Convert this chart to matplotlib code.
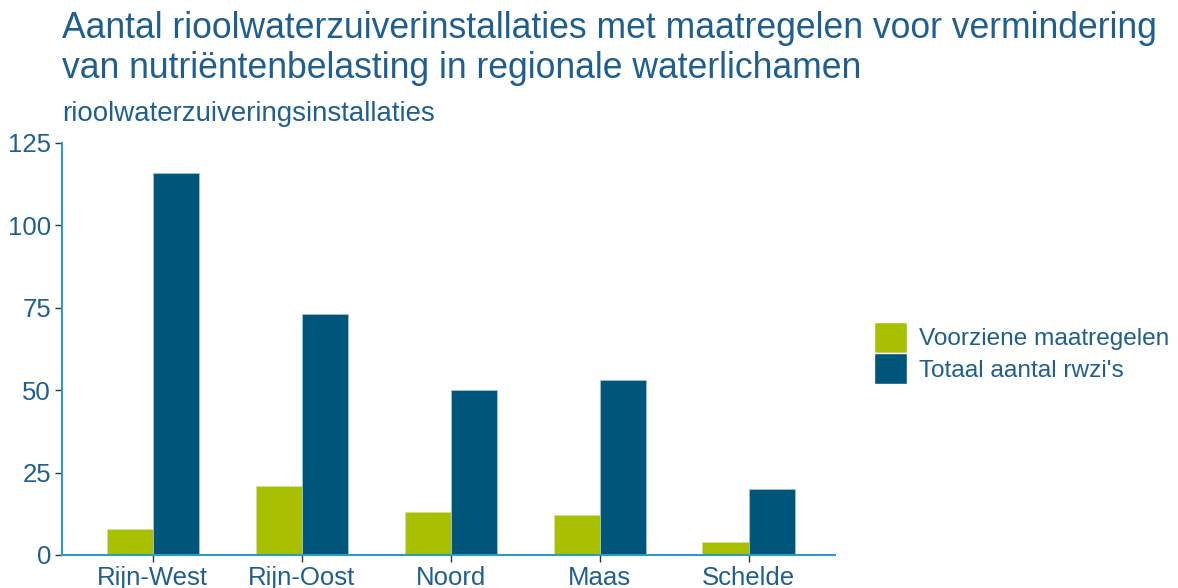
import matplotlib
matplotlib.use("Agg")
import matplotlib.pyplot as plt
import numpy as np
from matplotlib.patches import Patch

categories = ["Rijn-West", "Rijn-Oost", "Noord", "Maas", "Schelde"]
voorziene = [8, 21, 13, 12, 4]
totaal = [116, 73, 50, 53, 20]
series_names = ["Voorziene maatregelen", "Totaal aantal rwzi's"]
yticks = [0, 25, 50, 75, 100, 125]

plt.rcParams['font.family'] = ['Liberation Sans', 'DejaVu Sans']

green = "#a8c000"
blue = "#00567a"
txt = "#1f5f8f"
axcol = "#2b9cc0"

W, H = 1178, 588
fig = plt.figure(figsize=(W/100, H/100), dpi=100)
ax = fig.add_axes([62/W, (H-555)/H, (835-62)/W, (555-143)/H])

x = np.arange(len(categories))
bw = 0.31
ax.bar(x - bw/2, voorziene, width=bw, color=green, edgecolor="#cfe0a0", linewidth=0.6)
ax.bar(x + bw/2, totaal, width=bw, color=blue, edgecolor="#9fc3d3", linewidth=0.6)

ax.set_xlim(-0.61, 4.58)
ax.set_ylim(0, 125)
ax.set_xticks(x)
ax.set_xticklabels(categories)
ax.set_yticks(yticks)
ax.tick_params(axis='both', colors="#333333", labelcolor=txt, labelsize=18.5, length=5, width=1, pad=3)
for s in ["top", "right"]:
    ax.spines[s].set_visible(False)
for s in ["left", "bottom"]:
    ax.spines[s].set_color(axcol)
    ax.spines[s].set_linewidth(1.5)

fig.text(62/W, 1 - 28/H, "Aantal rioolwaterzuiverinstallaties met maatregelen voor vermindering",
         fontsize=25.6, color=txt, ha='left', va='center')
fig.text(62/W, 1 - 68/H, "van nutriëntenbelasting in regionale waterlichamen",
         fontsize=25.6, color=txt, ha='left', va='center')
fig.text(62/W, 1 - 114/H, "rioolwaterzuiveringsinstallaties", fontsize=19.9, color=txt, ha='left', va='center')

handles = [Patch(facecolor=green, edgecolor='white'), Patch(facecolor=blue, edgecolor='white')]
leg = fig.legend(handles, series_names, loc='center left', bbox_to_anchor=(874/W, 1 - 353/H),
                 frameon=False, fontsize=17.6, handlelength=1.35, handleheight=1.6,
                 handletextpad=0.5, labelspacing=0.0, borderaxespad=0, borderpad=0)
for t in leg.get_texts():
    t.set_color(txt)

fig.savefig("out.png", dpi=100)
